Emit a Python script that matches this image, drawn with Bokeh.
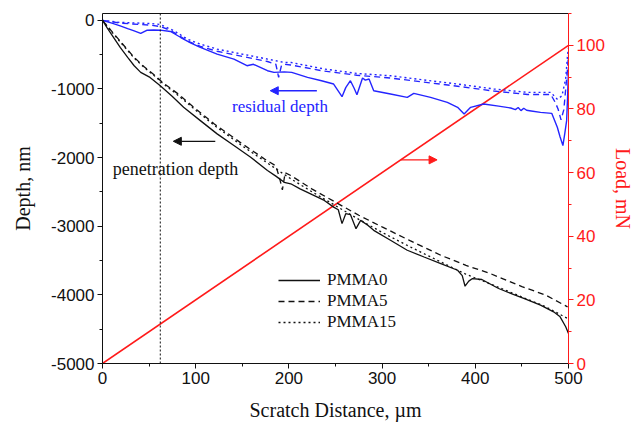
from bokeh.plotting import figure
from bokeh.models import (Range1d, LinearAxis, SingleIntervalTicker, FixedTicker, Span,
                          Arrow, NormalHead, Label, Legend, LegendItem, PrintfTickFormatter)
from bokeh.embed import file_html
from bokeh.resources import INLINE

# ---------------- data ----------------
# penetration depth (nm) vs scratch distance (um)
pen0_x = [0, 5, 10, 19, 27, 34, 41, 51, 62, 75, 87, 105, 123, 141, 159, 177, 186, 190, 195, 202, 212, 225,
          238, 248, 253, 257, 261, 266, 272, 277, 285, 291, 309, 327, 345, 363, 381, 386, 389, 393, 397, 407,
          425, 440, 452, 470, 484, 491, 497, 500]
pen0_y = [0, -110, -210, -395, -540, -661, -758, -831, -952, -1110, -1267, -1461, -1654, -1824, -1994, -2187,
          -2270, -2310, -2360, -2381, -2455, -2540, -2624, -2721, -2760, -2962, -2817, -2830, -3035, -2914, -2990,
          -3060, -3205, -3350, -3448, -3544, -3641, -3720, -3874, -3800, -3762, -3776, -3907, -3990, -4052, -4150,
          -4247, -4320, -4465, -4561]

pen5_x = [0, 10, 20, 34, 45, 55, 64, 80, 100, 120, 150, 175, 186, 190, 193, 196, 202, 225, 250, 275, 300, 330,
          363, 390, 416, 450, 475, 499]
pen5_y = [0, -160, -320, -540, -680, -790, -900, -1060, -1290, -1510, -1800, -2030, -2120, -2300, -2470, -2220,
          -2260, -2460, -2650, -2840, -3010, -3210, -3423, -3570, -3689, -3880, -4000, -4174]

pen15_x = [0, 10, 20, 34, 45, 55, 64, 80, 100, 120, 150, 175, 190, 202, 225, 250, 275, 300, 330, 363, 390, 416,
           450, 475, 499]
pen15_y = [0, -170, -330, -550, -690, -800, -910, -1080, -1310, -1530, -1830, -2060, -2200, -2308, -2500, -2700,
           -2900, -3090, -3300, -3520, -3700, -3840, -4030, -4170, -4343]

# residual depth (nm)
res0_x = [0, 10, 19, 27, 34, 41, 48, 55, 62, 73, 84, 95, 105, 123, 141, 155, 162, 177, 184, 195, 203, 220, 235,
          248, 257, 261, 266, 270, 273, 279, 282, 286, 291, 309, 327, 334, 352, 370, 381, 388, 395, 409, 425, 438,
          443, 446, 449, 452, 455, 460, 470, 482, 488, 491, 494, 496, 498, 499, 500]
res0_y = [0, -40, -80, -120, -153, -191, -143, -140, -143, -162, -250, -330, -395, -492, -564, -661, -640, -734,
          -758, -750, -758, -831, -880, -928, -1112, -980, -879, -990, -1083, -840, -870, -855, -1025, -1073, -1122,
          -1064, -1122, -1195, -1267, -1364, -1267, -1218, -1250, -1277, -1300, -1270, -1315, -1280, -1310, -1320,
          -1340, -1355, -1558, -1700, -1824, -1650, -1461, -1122, -686]

res5_x = [0, 19, 40, 52, 62, 70, 77, 91, 105, 123, 141, 159, 177, 186, 189, 192, 195, 202, 238, 273, 309, 345, 381,
          420, 456, 481, 486, 489, 492, 495, 497, 499, 500]
res5_y = [0, -40, -60, -70, -90, -130, -180, -300, -380, -450, -500, -550, -600, -640, -830, -660, -640, -650, -740,
          -800, -840, -900, -960, -1030, -1080, -1080, -1200, -1300, -1450, -1300, -1000, -700, -500]

res15_x = [0, 19, 40, 52, 62, 70, 77, 91, 105, 123, 141, 159, 177, 195, 202, 238, 273, 309, 345, 381, 420, 456, 481,
           488, 493, 497, 499, 500]
res15_y = [0, -30, -40, -46, -60, -110, -153, -273, -346, -419, -468, -516, -564, -613, -613, -709, -773, -807, -869,
           -928, -1000, -1049, -1049, -1150, -1100, -850, -500, -400]

# load (mN)
load_x = [0, 500]
load_y = [0, 100]

series_names = ["PMMA0", "PMMA5", "PMMA15"]

# ---------------- figure ----------------
BLUE = "#2424ff"
RED = "#ff1a1a"
BLACK = "#111111"
SANS = "Liberation Sans"
SERIF = "Liberation Serif"

p = figure(width=638, height=423, output_backend="svg", toolbar_location=None,
           x_range=Range1d(0, 500), y_range=Range1d(-5000, 100),
           min_border_left=102, min_border_right=70, min_border_top=13, min_border_bottom=59)
p.extra_y_ranges = {"load": Range1d(0, 110)}
p.outline_line_color = None
p.xgrid.visible = False
p.ygrid.visible = False
p.background_fill_color = "white"
p.border_fill_color = "white"

def style_axis(ax, color):
    ax.axis_line_color = color
    ax.major_tick_line_color = color
    ax.minor_tick_line_color = color
    ax.major_label_text_color = color
    ax.axis_label_text_color = color
    ax.major_tick_out = 5
    ax.major_tick_in = 0
    ax.minor_tick_out = 3
    ax.minor_tick_in = 0
    ax.major_label_text_font = SANS
    ax.major_label_text_font_size = "17px"
    ax.axis_label_text_font = SERIF
    ax.axis_label_text_font_size = "20px"
    ax.axis_label_text_font_style = "normal"
    ax.major_label_standoff = 3
    ax.formatter = PrintfTickFormatter(format="%d")

xa = p.xaxis[0]
xa.ticker = SingleIntervalTicker(interval=100, num_minor_ticks=2)
xa.axis_label = "Scratch Distance, µm"
style_axis(xa, BLACK)
xa.axis_label_standoff = 12

ya = p.yaxis[0]
ya.ticker = SingleIntervalTicker(interval=1000, num_minor_ticks=2)
ya.axis_label = "Depth, nm"
style_axis(ya, BLACK)
ya.axis_label_standoff = 14

ra = LinearAxis(y_range_name="load", ticker=SingleIntervalTicker(interval=20, num_minor_ticks=2),
                axis_label="Load, mN")
style_axis(ra, RED)
ra.axis_label_standoff = 4
p.add_layout(ra, "right")

ta = LinearAxis(ticker=FixedTicker(ticks=[]), major_label_text_font_size="0px")
ta.axis_line_color = BLACK
ta.major_tick_line_color = None
ta.minor_tick_line_color = None
p.add_layout(ta, "above")

# vertical dotted marker
p.add_layout(Span(location=62, dimension="height", line_color=BLACK, line_dash="2 2", line_width=1))

# load line
p.line(load_x, load_y, y_range_name="load", line_color=RED, line_width=1.6)

# residual depth
p.line(res5_x, res5_y, line_color=BLUE, line_width=1.4, line_dash="6 4")
p.line(res15_x, res15_y, line_color=BLUE, line_width=1.4, line_dash="2 3")
p.line(res0_x, res0_y, line_color=BLUE, line_width=1.4)

# penetration depth
r5 = p.line(pen5_x, pen5_y, line_color=BLACK, line_width=1.3, line_dash="6 4")
r15 = p.line(pen15_x, pen15_y, line_color=BLACK, line_width=1.3, line_dash="2 3")
r0 = p.line(pen0_x, pen0_y, line_color=BLACK, line_width=1.3)

legend = Legend(items=[LegendItem(label=series_names[0], renderers=[r0]),
                       LegendItem(label=series_names[1], renderers=[r5]),
                       LegendItem(label=series_names[2], renderers=[r15])],
                location=(176, 31), glyph_width=42, glyph_height=20, label_height=20, spacing=1,
                label_standoff=7, padding=0, margin=0, border_line_color=None,
                background_fill_alpha=0, label_text_font=SERIF, label_text_font_size="17px",
                label_text_color=BLACK)
p.add_layout(legend)

# annotations
p.add_layout(Arrow(end=NormalHead(size=8, fill_color=BLUE, line_color=BLUE),
                   x_start=230, y_start=-1025, x_end=180, y_end=-1025, line_color=BLUE, line_width=1.5))
p.add_layout(Label(x=139, y=-1257, text="residual depth", text_font=SERIF, text_font_size="17px",
                   text_color=BLUE, text_baseline="middle", text_align="left"))
p.add_layout(Arrow(end=NormalHead(size=8, fill_color=BLACK, line_color=BLACK),
                   x_start=121, y_start=-1762, x_end=76, y_end=-1762, line_color=BLACK, line_width=1.3))
p.add_layout(Label(x=11, y=-2163, text="penetration depth", text_font=SERIF, text_font_size="18px",
                   text_color=BLACK, text_baseline="middle", text_align="left"))
p.add_layout(Arrow(end=NormalHead(size=8, fill_color=RED, line_color=RED),
                   x_start=320, y_start=64, x_end=359, y_end=64, y_range_name="load",
                   line_color=RED, line_width=1.3))

open("out.html", "w").write(file_html(p, INLINE))
